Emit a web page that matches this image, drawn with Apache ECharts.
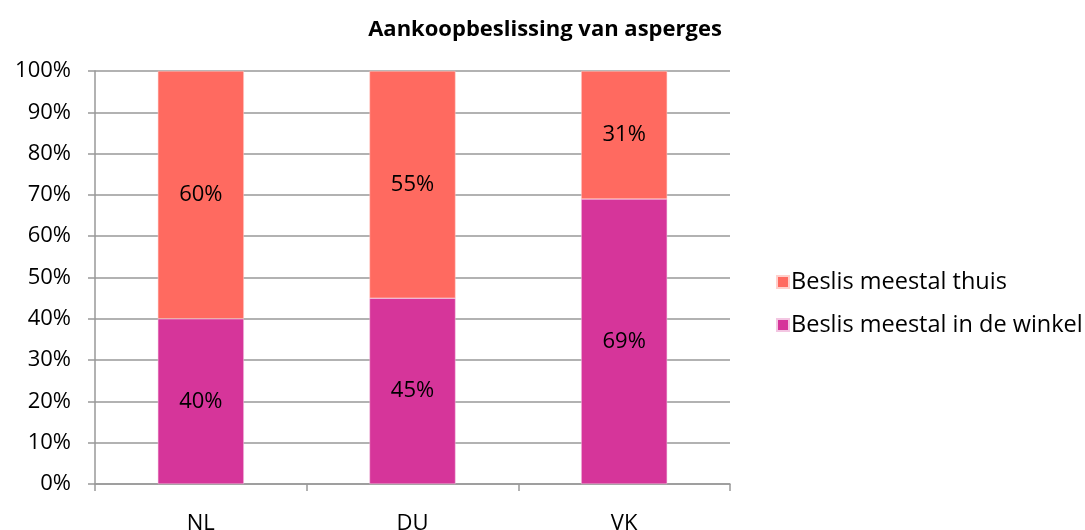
<!DOCTYPE html>
<html>
<head>
<meta charset="utf-8">
<script src="https://cdn.jsdelivr.net/npm/echarts@6/dist/echarts.min.js"></script>
<style>
  html, body { margin: 0; padding: 0; background: #fff; }
  #chart { width: 1085px; height: 530px; }
</style>
</head>
<body>
<div id="chart"></div>
<script>
// data
const categories = ['NL', 'DU', 'VK'];
const winkel = [40, 45, 69];   // Beslis meestal in de winkel
const thuis = [60, 55, 31];    // Beslis meestal thuis
const yTicks = [0, 10, 20, 30, 40, 50, 60, 70, 80, 90, 100];

const FONT = '"Open Sans", sans-serif';

const chart = echarts.init(document.getElementById('chart'));

const labelStyle = {
  show: true,
  position: 'inside',
  formatter: p => p.value + '%',
  color: '#000',
  fontSize: 22,
  fontFamily: FONT
};

chart.setOption({
  animation: false,
  title: {
    text: 'Aankoopbeslissing van asperges',
    left: 540, top: 14, textAlign: 'center',
    textStyle: { fontSize: 22, fontWeight: 'bold', color: '#000', fontFamily: FONT }
  },
  legend: {
    orient: 'vertical',
    left: 771, top: 265,
    itemWidth: 12, itemHeight: 12, itemGap: 19,
    icon: 'rect',
    data: ['Beslis meestal thuis', 'Beslis meestal in de winkel'],
    textStyle: { fontSize: 23.5, color: '#000', fontFamily: FONT, padding: [0, 0, 0, -3] }
  },
  grid: { left: 95, right: 355, top: 71, bottom: 46, outerBoundsMode: 'none' },
  xAxis: {
    type: 'category',
    data: categories,
    axisLine: { lineStyle: { color: '#999', width: 1.5 } },
    axisTick: { show: true, length: 7, lineStyle: { color: '#999', width: 1.5 } },
    axisLabel: { color: '#000', fontSize: 22, margin: 29, fontFamily: FONT }
  },
  yAxis: {
    type: 'value',
    min: yTicks[0], max: yTicks[yTicks.length - 1], interval: 10,
    axisLine: { show: true, lineStyle: { color: '#999', width: 1.5 } },
    axisTick: { show: true, length: 7, lineStyle: { color: '#999', width: 1.5 } },
    splitLine: { lineStyle: { color: '#999', width: 1.5 } },
    axisLabel: { color: '#000', fontSize: 22, margin: 24, fontFamily: FONT, formatter: v => v + '%' }
  },
  series: [
    {
      name: 'Beslis meestal in de winkel',
      type: 'bar', stack: 'total', data: winkel, barWidth: 86,
      itemStyle: { color: '#D6359A', borderColor: '#F3C6E2', borderWidth: 0.5 },
      label: labelStyle
    },
    {
      name: 'Beslis meestal thuis',
      type: 'bar', stack: 'total', data: thuis, barWidth: 86,
      itemStyle: { color: '#FF6A60', borderColor: '#FFD0CC', borderWidth: 0.5 },
      label: labelStyle
    }
  ]
});
</script>
</body>
</html>
